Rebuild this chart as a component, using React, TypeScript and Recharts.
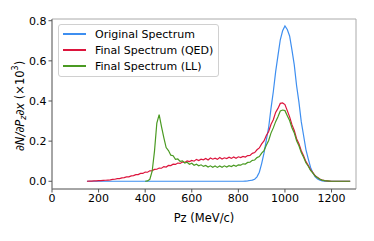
import React from 'react';
import { LineChart, Line, XAxis, YAxis, Legend, ReferenceArea, Label } from 'recharts';

const pz = [
  150, 160, 170, 180, 190, 200, 210, 220, 230, 240,
  250, 260, 270, 280, 290, 300, 310, 320, 330, 340,
  350, 360, 370, 380, 390, 400, 410, 420, 430, 440,
  450, 460, 470, 480, 490, 500, 510, 520, 530, 540,
  550, 560, 570, 580, 590, 600, 610, 620, 630, 640,
  650, 660, 670, 680, 690, 700, 710, 720, 730, 740,
  750, 760, 770, 780, 790, 800, 810, 820, 830, 840,
  850, 860, 870, 880, 890, 900, 910, 920, 930, 940,
  950, 960, 970, 980, 990, 1000, 1010, 1020, 1030, 1040,
  1050, 1060, 1070, 1080, 1090, 1100, 1110, 1120, 1130, 1140,
  1150, 1160, 1170, 1180, 1190, 1200, 1210, 1220, 1230, 1240,
  1250, 1260, 1270, 1280,
];

const original = [
  0, 0, 0, 0, 0, 0, 0, 0, 0, 0,
  0, 0, 0, 0, 0, 0, 0, 0, 0, 0,
  0, 0, 0, 0, 0, 0, 0, 0, 0, 0,
  0, 0, 0, 0, 0, 0, 0, 0, 0, 0,
  0, 0, 0, 0, 0, 0, 0, 0, 0, 0,
  0, 0, 0, 0, 0, 0, 0, 0, 0, 0,
  0, 0, 0, 0, 0, 0, 0, 0, 0.001, 0.002,
  0.004, 0.006, 0.010, 0.022, 0.045, 0.088, 0.140, 0.205, 0.268, 0.362,
  0.446, 0.545, 0.626, 0.705, 0.750, 0.774, 0.756, 0.724, 0.655, 0.580,
  0.476, 0.394, 0.297, 0.228, 0.158, 0.112, 0.069, 0.041, 0.022, 0.011,
  0.005, 0.002, 0.001, 0, 0, 0, 0, 0, 0, 0,
  0, 0, 0, 0,
];

const qed = [
  0.000, 0.001, 0.001, 0.002, 0.002, 0.003, 0.003, 0.004, 0.005, 0.006,
  0.007, 0.009, 0.010, 0.013, 0.013, 0.017, 0.018, 0.022, 0.022, 0.027,
  0.028, 0.033, 0.033, 0.039, 0.039, 0.046, 0.045, 0.052, 0.053, 0.059,
  0.060, 0.066, 0.065, 0.073, 0.071, 0.079, 0.078, 0.085, 0.084, 0.091,
  0.089, 0.096, 0.094, 0.101, 0.098, 0.104, 0.100, 0.109, 0.103, 0.110,
  0.107, 0.114, 0.106, 0.116, 0.110, 0.115, 0.109, 0.118, 0.111, 0.117,
  0.113, 0.120, 0.114, 0.121, 0.115, 0.122, 0.118, 0.124, 0.121, 0.128,
  0.129, 0.139, 0.143, 0.157, 0.166, 0.186, 0.201, 0.228, 0.248, 0.283,
  0.307, 0.343, 0.363, 0.388, 0.390, 0.382, 0.352, 0.321, 0.282, 0.253,
  0.212, 0.187, 0.152, 0.127, 0.098, 0.080, 0.057, 0.043, 0.027, 0.019,
  0.011, 0.006, 0.003, 0.002, 0.001, 0, 0, 0, 0, 0,
  0, 0, 0, 0,
];

const ll = [
  null, null, null, null, null, null, null, null, null, null,
  null, null, null, null, null, null, null, null, null, null,
  null, null, null, null, null, 0.000, 0.002, 0.010, 0.050, 0.150,
  0.290, 0.332, 0.272, 0.218, 0.168, 0.153, 0.130, 0.127, 0.109, 0.111,
  0.099, 0.102, 0.091, 0.095, 0.085, 0.090, 0.080, 0.085, 0.077, 0.082,
  0.074, 0.079, 0.071, 0.077, 0.070, 0.076, 0.069, 0.076, 0.070, 0.077,
  0.071, 0.078, 0.073, 0.080, 0.075, 0.082, 0.080, 0.087, 0.086, 0.094,
  0.095, 0.104, 0.106, 0.118, 0.123, 0.140, 0.153, 0.180, 0.203, 0.240,
  0.266, 0.297, 0.322, 0.350, 0.355, 0.352, 0.327, 0.303, 0.267, 0.241,
  0.202, 0.177, 0.143, 0.120, 0.092, 0.075, 0.054, 0.041, 0.026, 0.018,
  0.010, 0.006, 0.003, 0.002, 0.001, 0, 0, 0, 0, 0,
  0, 0, 0, 0,
];

const xTicks = [0, 200, 400, 600, 800, 1000, 1200];
const yTicks = [0, 0.2, 0.4, 0.6, 0.8];

const series = [
  { key: 'original', name: 'Original Spectrum', color: '#3d8ef0' },
  { key: 'qed', name: 'Final Spectrum (QED)', color: '#dc143c' },
  { key: 'll', name: 'Final Spectrum (LL)', color: '#4a9a22' },
];

const data = pz.map((p, i) => ({ pz: p, original: original[i], qed: qed[i], ll: ll[i] }));

const FONT = 'DejaVu Sans';
const X_DOMAIN = [0, 1305];
const Y_DOMAIN = [-0.0385, 0.8085];

function LegendBox() {
  return (
    <div
      style={{
        border: '1px solid #d0d0d0',
        borderRadius: 3,
        background: 'rgba(255,255,255,0.8)',
        padding: '1px 5px 2px 4px',
        fontFamily: FONT,
        fontSize: 11,
        color: '#000',
      }}
    >
      {series.map((s) => (
        <div key={s.key} style={{ display: 'flex', alignItems: 'center', height: 16 }}>
          <div style={{ width: 23, height: 1.5, background: s.color, marginRight: 9 }} />
          <span style={{ whiteSpace: 'nowrap' }}>{s.name}</span>
        </div>
      ))}
    </div>
  );
}

export default function App() {
  return (
    <div style={{ position: 'absolute', left: 0, top: 0, background: '#fff' }}>
      <LineChart
        width={374}
        height={241}
        data={data}
        margin={{ top: 19, right: 18, left: 0, bottom: 0 }}
      >
        <XAxis
          dataKey="pz"
          type="number"
          domain={X_DOMAIN}
          ticks={xTicks}
          height={52}
          tickSize={3.5}
          tickMargin={2}
          axisLine={{ stroke: '#777' }}
          tickLine={{ stroke: '#555' }}
          tick={{ fontSize: 11, fill: '#000', fontFamily: FONT }}
        >
          <Label
            content={() => (
              <text x={204} y={222} textAnchor="middle" fontSize={11.5} fontFamily={FONT} fill="#000">
                Pz (MeV/c)
              </text>
            )}
          />
        </XAxis>
        <YAxis
          type="number"
          domain={Y_DOMAIN}
          ticks={yTicks}
          width={52}
          tickSize={3.5}
          tickMargin={2}
          tickFormatter={(v: number) => v.toFixed(1)}
          axisLine={{ stroke: '#777' }}
          tickLine={{ stroke: '#555' }}
          tick={{ fontSize: 11, fill: '#000', fontFamily: FONT }}
        >
          <Label
            content={() => (
              <text
                x={20}
                y={106}
                textAnchor="middle"
                dominantBaseline="central"
                transform="rotate(-90 20 106)"
                fontSize={11.5}
                fontFamily={FONT}
                fill="#000"
              >
                <tspan fontStyle="italic">∂N/∂P</tspan>
                <tspan fontStyle="italic" fontSize={8} dy={3}>z</tspan>
                <tspan fontStyle="italic" dy={-3}>∂x</tspan>
                <tspan> (×10</tspan>
                <tspan fontSize={8} dy={-5}>3</tspan>
                <tspan dy={5}>)</tspan>
              </text>
            )}
          />
        </YAxis>
        <ReferenceArea
          x1={X_DOMAIN[0]}
          x2={X_DOMAIN[1]}
          y1={Y_DOMAIN[0]}
          y2={Y_DOMAIN[1]}
          fill="none"
          stroke="#aaa"
          strokeWidth={1}
          ifOverflow="visible"
        />
        {series.map((s) => (
          <Line
            key={s.key}
            dataKey={s.key}
            name={s.name}
            stroke={s.color}
            strokeWidth={1.2}
            dot={false}
            type="linear"
            isAnimationActive={false}
          />
        ))}
        <Legend
          layout="vertical"
          align="center"
          verticalAlign="middle"
          wrapperStyle={{ left: 58, top: 24, width: 'auto' }}
          content={() => <LegendBox />}
        />
      </LineChart>
    </div>
  );
}
